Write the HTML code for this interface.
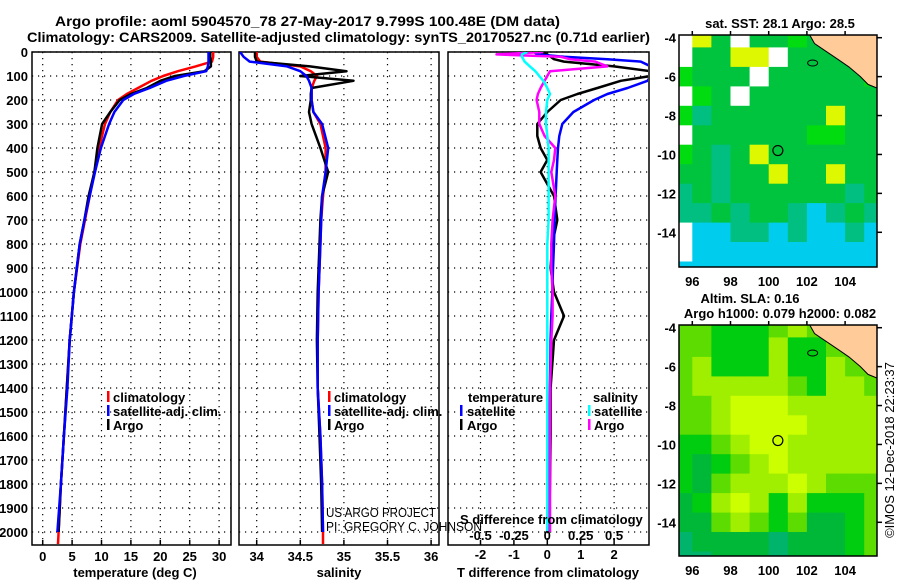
<!DOCTYPE html>
<html><head><meta charset="utf-8">
<style>
html,body{margin:0;padding:0;background:#fff;}
svg{display:block;font-family:"Liberation Sans",sans-serif;}
.b{font-weight:bold;}
</style></head>
<body>
<svg id="fig" width="900" height="580" viewBox="0 0 900 580" xmlns="http://www.w3.org/2000/svg">
<text x="55" y="26" class="b" font-size="14" textLength="505" lengthAdjust="spacingAndGlyphs">Argo profile: aoml 5904570_78 27-May-2017 9.799S 100.48E (DM data)</text>
<text x="27" y="42" class="b" font-size="14" textLength="623" lengthAdjust="spacingAndGlyphs">Climatology: CARS2009. Satellite-adjusted climatology: synTS_20170527.nc (0.71d earlier)</text>
<g id="plots"></g>
</svg>
<script>
// ---- profile data ----
const depths = [0,20,40,60,80,100,120,150,175,200,250,300,400,500,600,700,800,1000,1200,1400,1600,1800,2000,2050];
const tempClim = [29,29,28.8,26,23,20.5,18.5,16.2,14.3,12.8,11.5,10.6,9.6,8.8,8.0,7.2,6.4,5.3,4.6,4.1,3.6,3.1,2.7,2.6];
const tempSat = [28.2,28.2,28.2,28.1,27.8,24,21,18.2,15.5,13.7,12.2,11.3,9.9,8.9,8.0,7.1,6.3,5.3,4.6,4.2,3.6,3.1,2.5,2.5];
const tempArgo = [28.5,28.5,28.6,28.6,27.5,22.5,20,17.7,15,13.1,11.5,10.1,9.3,8.8,7.8,7.1,6.3,5.3,4.6,4.1,3.6,3.1,2.7,2.7];
const salClim = [34.0,34.0,34.04,34.5,34.62,34.69,34.66,34.63,34.63,34.63,34.65,34.73,34.79,34.79,34.76,34.74,34.73,34.71,34.70,34.70,34.73,34.75,34.76,34.76];
const salSat = [33.81,33.85,33.92,34.35,34.5,34.57,34.6,34.63,34.63,34.63,34.65,34.75,34.82,34.79,34.75,34.74,34.73,34.71,34.70,34.70,34.73,34.75,34.76,34.76];
const salArgo = [33.98,33.98,34.0,34.61,35.03,34.50,35.11,34.63,34.62,34.62,34.6,34.63,34.73,34.82,34.75,34.73,34.72,34.70,34.69,34.70,34.72,34.74,34.75,34.75];
const diffDepths = [0,10,20,30,40,60,80,100,120,150,175,200,250,300,350,400,450,500,600,700,800,900,1000,1100,1200,1400,1600,1800,2000];
const dTempSat = [-0.4,-0.3,0.5,1.8,2.8,3.1,3.1,3.1,3.0,2.4,1.8,1.4,0.78,0.45,0.36,0.32,0.3,0.28,0.25,0.22,0.2,0.17,0.15,0.12,0.1,0.08,0.06,0.05,0.0];
const dTempArgo = [-0.2,0.0,0.1,0.2,0.5,2.0,3.1,3.1,2.2,1.5,0.9,0.4,0.0,-0.3,-0.3,-0.2,0.0,-0.2,0.2,0.3,0.15,0.1,0.2,0.5,0.2,0.1,0.1,0.08,0.05];
const dSalSat = [-0.15,-0.19,-0.19,-0.18,-0.17,-0.13,-0.09,-0.06,-0.03,0.0,0.02,0.0,-0.01,-0.01,0.0,0.01,0.01,0.01,0.01,0.01,0.0,0.0,0.0,0.0,0.0,0.0,0.0,0.0,0.0];
const dSalArgo = [-0.03,-0.38,0.1,0.17,0.36,0.45,0.02,0.0,-0.02,-0.05,-0.07,-0.08,-0.06,-0.06,-0.02,0.06,0.05,0.03,0.06,0.04,0.03,0.03,0.04,0.04,0.03,0.02,0.02,0.02,0.02];
const depthTicks = [0,100,200,300,400,500,600,700,800,900,1000,1100,1200,1300,1400,1500,1600,1700,1800,1900,2000];
const tempTicks = [0,5,10,15,20,25,30];
const salTicks = [34,34.5,35,35.5,36];
const dTempTicks = [-2,-1,0,1,2];
const dSalTicks = [-0.5,-0.25,0,0.25,0.5];
// ---- map data (1-degree cells, rows from lat -3.5 downward, cols lon 95..105) ----
const sstGrid = [
"WYGWGGBGGGG",
"WGGYYWGGGGG",
"BGGGWGGGGGB",
"WBGWGGGGGGG",
"BTGGGGGGYGG",
"WGGGGGGBBGG",
"BGTGYGGGGGG",
"GGTGGYGGYGG",
"TGTGGGGGGTG",
"TTGTGGTCTGT",
"WCCTTCTCCTC",
"WCCCCCCCCCC",
"CCCCCCCCCCC"];
const slaGrid = [
"MMGGGMLMLMM",
"MMGGGLGGMMM",
"MLGGGLGGLMM",
"MLLLLLMGLLM",
"MMLYYYLLLLL",
"MMLYYYYLLLL",
"GGMLYYLLLLL",
"GDGMLYLLLLL",
"GDMLLLYLMMM",
"DGLYLGLGGGM",
"DDMLMGMDDGM",
"TDDDDTDDDGM",
"TTDDDTDDDGM"];
const landLon = [102.0,102.4,103.0,103.6,104.2,104.8,105.2,105.7,105.7];
const landLat = [-3.6,-4.3,-4.7,-5.1,-5.5,-6.0,-6.4,-6.6,-3.6];
const argoLon = 100.48, argoLat = -9.799;
const mapLonTicks = [96,98,100,102,104];
const mapLatTicks = [-4,-6,-8,-10,-12,-14];

const NS="http://www.w3.org/2000/svg";
const root=document.getElementById('plots');
function mk(tag,attrs,parent,txt){const e=document.createElementNS(NS,tag);for(const k in attrs)e.setAttribute(k,attrs[k]);if(txt!==undefined)e.textContent=txt;(parent||root).appendChild(e);return e;}

const Y0=52, PXM=0.24, YB=545;
const yD=d=>Y0+d*PXM;
const panels=[
 {x0:32,x1:231,sx:v=>42.7+v*5.88,ticks:tempTicks,name:'temperature'},
 {x0:239,x1:439,sx:v=>256.7+(v-34)*87.2,ticks:salTicks,name:'salinity'},
 {x0:448,x1:649,sx:v=>547.3+v*33.4,ticks:dTempTicks,name:'difference'}
];
const sxS=v=>547.3+v*133.6;

panels.forEach((p,i)=>{
 const g=mk('g',{});
 
 
 depthTicks.forEach(d=>{const l=mk('line',{x1:p.x0,x2:p.x1,y1:yD(d),y2:yD(d),stroke:'#000','stroke-width':1.2,'stroke-dasharray':'1.2 4.8'},g);
  });
 p.ticks.forEach(t=>{const x=p.sx(t);const l=mk('line',{x1:x,x2:x,y1:Y0,y2:YB,stroke:'#000','stroke-width':1.2,'stroke-dasharray':'1.2 4.8'},g);
  
  const tk=mk('line',{x1:x,x2:x,y1:YB,y2:YB-5,stroke:'#000','stroke-width':1.5},g);
  
  const tl=mk('text',{x:x,y:i==2?559:561,'text-anchor':'middle','font-size':13,'class':'b'},g,String(t));
  });
 const fr=mk('rect',{x:p.x0,y:Y0,width:p.x1-p.x0,height:YB-Y0,fill:'none',stroke:'#000','stroke-width':1.5},g);
 
});
depthTicks.forEach(d=>{const t=mk('text',{x:28,y:yD(d)+5,'text-anchor':'end','font-size':13,'class':'b'},root,String(d));
 });

function line(dep,vals,sx,color,name,w){
 const pts=vals.map((v,k)=>sx(v).toFixed(1)+','+yD(dep[k]).toFixed(1)).join(' ');
 const cl=mk('clipPath',{id:'c'+name});mk('rect',{x:sx===panels[0].sx?32:(sx===panels[1].sx?239:448),y:Y0,width:200,height:YB-Y0},cl);
 const pl=mk('polyline',{points:pts,fill:'none',stroke:color,'stroke-width':w||2.5,'stroke-linejoin':'round','clip-path':'url(#c'+name+')'});
 
 
}
const dAr=depths.slice(0,23);
line(depths,tempClim,panels[0].sx,'#ff0000','temp-climatology-line');
line(dAr,tempArgo.slice(0,23),panels[0].sx,'#000','temp-argo-line');
line(dAr,tempSat.slice(0,23),panels[0].sx,'#0000ff','temp-satellite-line');
line(depths,salClim,panels[1].sx,'#ff0000','sal-climatology-line');
line(dAr,salArgo.slice(0,23),panels[1].sx,'#000','sal-argo-line');
line(dAr,salSat.slice(0,23),panels[1].sx,'#0000ff','sal-satellite-line');
line(diffDepths,dTempArgo,panels[2].sx,'#000','dtemp-argo-line');
line(diffDepths,dTempSat,panels[2].sx,'#0000ff','dtemp-satellite-line');
line(diffDepths,dSalArgo,sxS,'#ff00ff','dsal-argo-line');
line(diffDepths,dSalSat,sxS,'#00ffff','dsal-satellite-line');

// S difference ticks
dSalTicks.forEach(t=>{const tl=mk('text',{x:sxS(t),y:540,'text-anchor':'middle','font-size':13,'class':'b'},root,String(t));
 });

function txt(x,y,s,name,opts){const t=mk('text',Object.assign({x:x,y:y,'font-size':13,'class':'b'},opts||{}),root,s);
 return t;}
function bar(x,y,c,name){const r=mk('rect',{x:x,y:y-11,width:2.5,height:11,fill:c});}
txt(135,577,'temperature (deg C)','x-axis-title-temperature',{'text-anchor':'middle'});
txt(339,577,'salinity','x-axis-title-salinity',{'text-anchor':'middle'});
txt(548,577,'T difference from climatology','x-axis-title-t-diff',{'text-anchor':'middle'});
txt(460,524,'S difference from climatology','s-diff-axis-title');
// legends
[[107,113],[328,334]].forEach((L,i)=>{
 bar(L[0],402,'#ff0000','legend-climatology-swatch');txt(L[1],402,'climatology','legend-climatology');
 bar(L[0],416,'#0000ff','legend-satellite-swatch');txt(L[1],416,'satellite-adj. clim.','legend-satellite-adj');
 bar(L[0],430,'#000','legend-argo-swatch');txt(L[1],430,'Argo','legend-argo');
});
txt(468,402,'temperature','legend-temperature-heading');
bar(460,416,'#0000ff','legend-t-satellite-swatch');txt(467,416,'satellite','legend-t-satellite');
bar(460,430,'#000','legend-t-argo-swatch');txt(467,430,'Argo','legend-t-argo');
txt(593,402,'salinity','legend-salinity-heading');
bar(588,416,'#00ffff','legend-s-satellite-swatch');txt(594,416,'satellite','legend-s-satellite');
bar(588,430,'#ff00ff','legend-s-argo-swatch');txt(594,430,'Argo','legend-s-argo');
txt(326,517,'US ARGO PROJECT','credit-project',{'class':'','font-size':13,textLength:110,lengthAdjust:'spacingAndGlyphs'});
txt(326,531,'PI: GREGORY C. JOHNSON','credit-pi',{'class':'','font-size':13,textLength:156,lengthAdjust:'spacingAndGlyphs'});

// ---- maps ----
const sstCol={W:'#ffffff',G:'#00c43e',B:'#00dc10',T:'#00bf80',C:'#00ccee',Y:'#ddf800'};
const slaCol={Y:'#ccff00',L:'#a0ee00',M:'#5cdc00',G:'#00cc10',D:'#00b838',T:'#00b46c'};
function drawMap(top,bottom,grid,cols,name,title1,title2,lonLabY){
 const X0=692.3,PX=19.1,PY=19.46,LY0=top+2.7;
 const lx=lon=>X0+(lon-96)*PX, ly=lat=>LY0+(-4-lat)*PY;
 const g=mk('g',{});
 
 
 const cp=mk('clipPath',{id:'clip-'+name},g);mk('rect',{x:679,y:top,width:198,height:bottom-top},cp);
 const cells=mk('g',{'clip-path':'url(#clip-'+name+')'},g);
 grid.forEach((row,r)=>{[...row].forEach((c,k)=>{
  const lon=95+k, latTop=-3.5-r;
  const x=lx(lon),y=ly(latTop);
  const rc=mk('rect',{x:x.toFixed(1),y:y.toFixed(1),width:PX+0.6,height:PY+0.6,fill:cols[c]},cells);
  
 });});
 const pts=landLon.map((lo,k)=>lx(lo).toFixed(1)+','+ly(landLat[k]).toFixed(1)).join(' ');
 const land=mk('polygon',{points:pts,fill:'#ffcc99',stroke:'#000','stroke-width':1},cells);
 
 const isl=mk('ellipse',{cx:lx(102.3),cy:ly(-5.3),rx:5,ry:3,fill:'none',stroke:'#000','stroke-width':1},cells);
 
 const ci=mk('circle',{cx:lx(argoLon),cy:ly(argoLat),r:5,fill:'none',stroke:'#000','stroke-width':1.2},g);
 
 const fr=mk('rect',{x:679,y:top,width:198,height:bottom-top,fill:'none',stroke:'#000','stroke-width':1.5},g);
 
 mapLatTicks.forEach(t=>{const y=ly(t);
  const tk=mk('line',{x1:877,x2:882,y1:y,y2:y,stroke:'#000','stroke-width':1.5},g);
  
  const tl=mk('text',{x:676,y:y+5,'text-anchor':'end','font-size':13,'class':'b'},g,String(t));
  });
 mapLonTicks.forEach(t=>{const x=lx(t);
  const tk=mk('line',{x1:x,x2:x,y1:top,y2:top-4,stroke:'#000','stroke-width':1.5},g);
  
  const tl=mk('text',{x:x,y:lonLabY,'text-anchor':'middle','font-size':13,'class':'b'},g,String(t));
  });
}
drawMap(35,267,sstGrid,sstCol,'sst-map','','',286);
drawMap(325,556,slaGrid,slaCol,'sla-map','','',575);
txt(780,28,'sat. SST: 28.1 Argo: 28.5','sst-map-title',{'text-anchor':'middle'});
txt(750,303,'Altim. SLA: 0.16','sla-map-title',{'text-anchor':'middle'});
txt(780,318,'Argo h1000: 0.079 h2000: 0.082','sla-map-subtitle',{'text-anchor':'middle'});
txt(894,450,'©IMOS 12-Dec-2018 22:23:37','imos-timestamp',{'class':'','text-anchor':'middle',transform:'rotate(-90 894 450)'});
</script>
</body></html>
